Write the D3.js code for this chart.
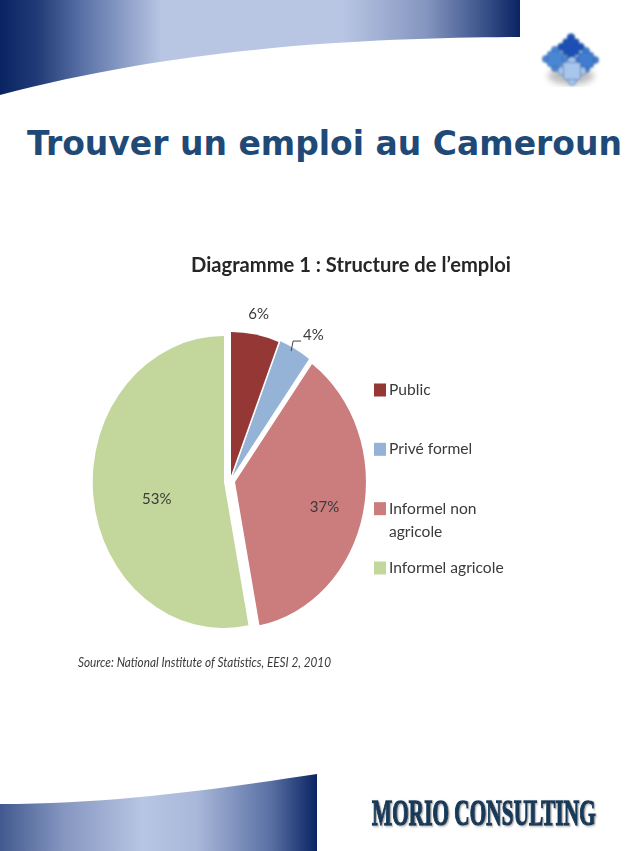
<!DOCTYPE html>
<html>
<head>
<meta charset="utf-8">
<script src="https://cdn.jsdelivr.net/npm/d3@7/dist/d3.min.js"></script>
<style>
  html, body { margin: 0; padding: 0; background: #fff; }
  svg { display: block; }
  text { font-family: Lato, "Open Sans", sans-serif; fill: #3a3a3a; }
</style>
</head>
<body>
<div id="chart"></div>
<script>
// values
const categories = ["Public", "Privé formel", "Informel non agricole", "Informel agricole"];
const shares = [6, 4, 37, 53];
const shareLabels = ["6%", "4%", "37%", "53%"];
const legendLines = [["Public"], ["Privé formel"], ["Informel non", "agricole"], ["Informel agricole"]];
const colors = ["#953735", "#95b3d7", "#cb7b7b", "#c3d69b"];

const pageTitle = "Trouver un emploi au Cameroun";
const chartTitle = "Diagramme 1 : Structure de l’emploi";
const sourceNote = "Source: National Institute of Statistics, EESI 2, 2010";
const brand = "MORIO CONSULTING";

// layout of the exploded pie (the picture is a bit squeezed horizontally)
const width = 638, height = 851;
const cx = 229, cy = 480, rx = 131, ry = 146;
const explode = [[2, -2], [3, -3], [6, 2], [-5, 2]];
const labelRadius = [1.13, 1.1, 0.7, 0.5];
const labelNudge = [[0, -2], [12, -2], [0, 2], [-2, 10]];

const svg = d3.select("#chart").append("svg")
  .attr("width", width)
  .attr("height", height);

const defs = svg.append("defs");

function addGradient(id, stops) {
  const grad = defs.append("linearGradient").attr("id", id);
  stops.forEach(s => grad.append("stop").attr("offset", s[0]).attr("stop-color", s[1]));
}
addGradient("topBand", [[0, "#0a2463"], [0.07, "#1f3a76"], [0.17, "#6178ab"], [0.31, "#b8c5e3"], [0.66, "#b8c5e3"], [0.82, "#8495bf"], [0.92, "#42598f"], [1, "#0a2463"]]);
addGradient("bottomBand", [[0, "#42598f"], [0.2, "#8596c0"], [0.45, "#b8c5e3"], [0.62, "#a9b8da"], [0.85, "#5c72a6"], [1, "#0a2463"]]);

// the reference is a soft, rescaled image
defs.append("filter").attr("id", "soft").append("feGaussianBlur").attr("stdDeviation", 0.45);
defs.append("filter").attr("id", "softer").append("feGaussianBlur").attr("stdDeviation", 0.8);
defs.append("filter").attr("id", "shadow").append("feGaussianBlur").attr("stdDeviation", 3);
defs.append("filter").attr("id", "brandShadow")
  .attr("x", "-5%").attr("y", "-20%").attr("width", "112%").attr("height", "150%")
  .append("feDropShadow")
  .attr("dx", 2).attr("dy", 1).attr("stdDeviation", 0.8)
  .attr("flood-color", "#b4b4b4");

// header and footer bands
svg.append("path")
  .attr("d", "M0,0H520V37C400,38 200,42 0,95Z")
  .attr("fill", "url(#topBand)");
svg.append("path")
  .attr("d", "M0,804C120,804 230,787 317,774V851H0Z")
  .attr("fill", "url(#bottomBand)");

// puzzle logo
function puzzlePiece(g, x, y, s, fill) {
  const p = g.append("g").attr("transform", `translate(${x},${y})`)
    .attr("fill", fill).attr("stroke", "#2a5698").attr("stroke-width", 0.6);
  p.append("circle").attr("cx", 0).attr("cy", -s - 1.5).attr("r", s * 0.48);
  p.append("circle").attr("cx", -s - 1.5).attr("cy", 0).attr("r", s * 0.48);
  p.append("circle").attr("cx", s + 1.5).attr("cy", 0).attr("r", s * 0.48);
  p.append("circle").attr("cx", 0).attr("cy", s + 1.5).attr("r", s * 0.48);
  p.append("rect").attr("x", -s).attr("y", -s).attr("width", 2 * s).attr("height", 2 * s).attr("rx", 2);
}
svg.append("ellipse")
  .attr("cx", 571).attr("cy", 76).attr("rx", 23).attr("ry", 9)
  .attr("fill", "#8c8c8c").attr("opacity", 0.55).attr("filter", "url(#shadow)");
const logo = svg.append("g").attr("filter", "url(#softer)");
puzzlePiece(logo, 571, 47, 8, "#1a4fb5");
puzzlePiece(logo, 555, 59, 7.5, "#4a86d4");
puzzlePiece(logo, 586, 60, 7.5, "#3f7cd0");
puzzlePiece(logo, 572, 71, 8.5, "#a8c6ec");

svg.append("text")
  .attr("x", 27).attr("y", 155)
  .attr("textLength", 595).attr("lengthAdjust", "spacingAndGlyphs")
  .style("font-family", "'DejaVu Sans', sans-serif")
  .style("font-weight", 700).style("font-size", "33px").style("fill", "#1f4a78")
  .text(pageTitle);

// chart picture
const chart = svg.append("g").attr("filter", "url(#soft)");

chart.append("text")
  .attr("x", 191).attr("y", 272)
  .attr("textLength", 320).attr("lengthAdjust", "spacingAndGlyphs")
  .style("font-weight", 700).style("font-size", "20px").style("fill", "#262626")
  .text(chartTitle);

const pie = d3.pie().value(d => d).sort(null);
const arcs = pie(shares);
const arc = d3.arc().innerRadius(0).outerRadius(1);

chart.selectAll("path.slice")
  .data(arcs)
  .join("path")
  .attr("class", "slice")
  .attr("transform", (d, i) => `translate(${cx + explode[i][0]},${cy + explode[i][1]}) scale(${rx},${ry})`)
  .attr("d", arc)
  .attr("fill", (d, i) => colors[i]);

// thin white seam between the two small slices
const seamAngle = arcs[0].endAngle;
chart.append("line")
  .attr("x1", cx + explode[0][0]).attr("y1", cy + explode[0][1])
  .attr("x2", cx + explode[0][0] + Math.sin(seamAngle) * rx)
  .attr("y2", cy + explode[0][1] - Math.cos(seamAngle) * ry)
  .attr("stroke", "#fff").attr("stroke-width", 1.5);

chart.selectAll("text.share")
  .data(arcs)
  .join("text")
  .attr("class", "share")
  .attr("x", (d, i) => cx + explode[i][0] + Math.sin((d.startAngle + d.endAngle) / 2) * rx * labelRadius[i] + labelNudge[i][0])
  .attr("y", (d, i) => cy + explode[i][1] - Math.cos((d.startAngle + d.endAngle) / 2) * ry * labelRadius[i] + labelNudge[i][1])
  .attr("dy", "0.35em")
  .attr("text-anchor", "middle")
  .style("font-size", "15px")
  .text((d, i) => shareLabels[i]);

// leader line of the 4% label
const leadAngle = (arcs[1].startAngle + arcs[1].endAngle) / 2;
const leadX = cx + explode[1][0] + Math.sin(leadAngle) * rx;
const leadY = cy + explode[1][1] - Math.cos(leadAngle) * ry;
chart.append("path")
  .attr("d", d3.line()([[leadX - 4, leadY + 2], [leadX - 2, leadY - 8], [leadX + 6, leadY - 8]]))
  .attr("fill", "none").attr("stroke", "#444").attr("stroke-width", 1);

// legend
const legendY = d3.scalePoint().domain(categories).range([390, 568]);
const legend = chart.selectAll("g.legend")
  .data(categories)
  .join("g")
  .attr("class", "legend")
  .attr("transform", d => `translate(374,${legendY(d)})`);

legend.append("rect")
  .attr("y", -6.5).attr("width", 12).attr("height", 13)
  .attr("fill", (d, i) => colors[i]);

legend.each(function (d, i) {
  d3.select(this).selectAll("text")
    .data(legendLines[i])
    .join("text")
    .attr("x", 15)
    .attr("y", (l, j) => 5 + j * 23)
    .style("font-size", "15.6px")
    .text(l => l);
});

chart.append("text")
  .attr("x", 78).attr("y", 667)
  .attr("textLength", 253).attr("lengthAdjust", "spacingAndGlyphs")
  .style("font-style", "italic").style("font-size", "12.5px")
  .text(sourceNote);

// brand mark at the bottom, squeezed by a scale so it fits the logo width
const brandText = svg.append("text")
  .attr("filter", "url(#brandShadow)")
  .style("font-family", "'Liberation Serif', serif")
  .style("font-weight", 700).style("font-size", "35px")
  .style("fill", "#143a5a").style("stroke", "#143a5a").style("stroke-width", 1.4)
  .text(brand);
const brandScale = 224 / brandText.node().getComputedTextLength();
brandText.attr("transform", `translate(372,825) scale(${brandScale},1)`);
</script>
</body>
</html>
